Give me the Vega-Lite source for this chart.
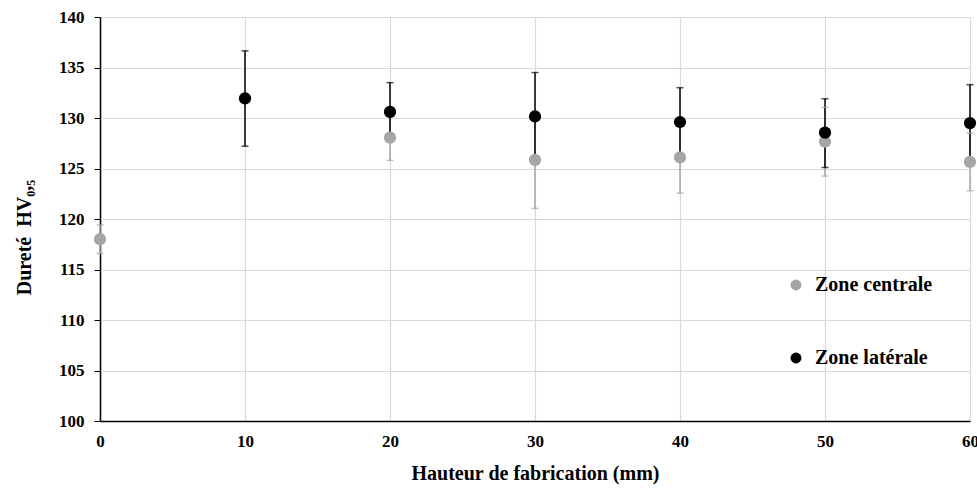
{
  "$schema": "https://vega.github.io/schema/vega-lite/v6.json",
  "width": 870,
  "height": 404,
  "autosize": "none",
  "padding": {"left": 100, "top": 17, "right": 7, "bottom": 68},
  "background": "white",
  "config": {
    "font": "Liberation Serif",
    "view": {"stroke": null},
    "axis": {
      "labelFont": "Liberation Serif",
      "labelFontWeight": "bold",
      "labelFontSize": 17,
      "labelColor": "#000000",
      "titleFont": "Liberation Serif",
      "titleFontWeight": "bold",
      "titleFontSize": 19,
      "titleColor": "#000000",
      "domainColor": "#000000",
      "domainWidth": 1.5,
      "tickColor": "#000000",
      "gridColor": "#D9D9D9",
      "gridWidth": 1.2
    }
  },
  "data": {
    "values": [
      {"zone": "Zone centrale", "x": 0, "y": 118.0, "lo": 116.6, "hi": 119.4},
      {"zone": "Zone centrale", "x": 20, "y": 128.05, "lo": 125.8, "hi": 130.3},
      {"zone": "Zone centrale", "x": 30, "y": 125.85, "lo": 121.05, "hi": 130.65},
      {"zone": "Zone centrale", "x": 40, "y": 126.1, "lo": 122.55, "hi": 129.65},
      {"zone": "Zone centrale", "x": 50, "y": 127.65, "lo": 124.25, "hi": 131.05},
      {"zone": "Zone centrale", "x": 60, "y": 125.65, "lo": 122.8, "hi": 128.5},
      {"zone": "Zone latérale", "x": 10, "y": 131.95, "lo": 127.2, "hi": 136.65},
      {"zone": "Zone latérale", "x": 20, "y": 130.6, "lo": 127.7, "hi": 133.5},
      {"zone": "Zone latérale", "x": 30, "y": 130.15, "lo": 125.8, "hi": 134.5},
      {"zone": "Zone latérale", "x": 40, "y": 129.6, "lo": 126.2, "hi": 133.0},
      {"zone": "Zone latérale", "x": 50, "y": 128.55, "lo": 125.1, "hi": 131.9},
      {"zone": "Zone latérale", "x": 60, "y": 129.5, "lo": 125.7, "hi": 133.3}
    ]
  },
  "encoding": {
    "x": {
      "field": "x", "type": "quantitative",
      "scale": {"domain": [0, 60], "nice": false, "zero": false},
      "axis": {"values": [0, 10, 20, 30, 40, 50, 60], "title": "Hauteur de fabrication (mm)", "titleFontSize": 20, "tickSize": 0, "labelPadding": 12, "titlePadding": 14, "labelFlush": false}
    }
  },
  "resolve": {"legend": {"color": "independent"}},
  "layer": [
    {
      "mark": {"type": "rule", "strokeWidth": 1.5},
      "encoding": {
        "y": {"field": "lo", "type": "quantitative",
          "scale": {"domain": [100, 140], "nice": false, "zero": false},
          "axis": {"values": [100, 105, 110, 115, 120, 125, 130, 135, 140], "title": "Dureté\u00a0\u00a0HV₀,₅", "titleFontSize": 20, "titleY": 220, "titleAlign": "center", "tickSize": 6, "labelPadding": 10, "titlePadding": 24}},
        "y2": {"field": "hi"},
        "color": {"field": "zone", "type": "nominal", "scale": {"domain": ["Zone centrale", "Zone latérale"], "range": ["#A6A6A6", "#000000"]}, "legend": null}
      }
    },
    {
      "mark": {"type": "tick", "orient": "horizontal", "size": 7, "thickness": 1.5},
      "encoding": {
        "y": {"field": "lo", "type": "quantitative"},
        "color": {"field": "zone", "type": "nominal", "legend": null}
      }
    },
    {
      "mark": {"type": "tick", "orient": "horizontal", "size": 7, "thickness": 1.5},
      "encoding": {
        "y": {"field": "hi", "type": "quantitative"},
        "color": {"field": "zone", "type": "nominal", "legend": null}
      }
    },
    {
      "mark": {"type": "point", "filled": true, "opacity": 1, "size": 150},
      "encoding": {
        "y": {"field": "y", "type": "quantitative"},
        "color": {
          "field": "zone", "type": "nominal",
          "legend": {
            "title": null,
            "orient": "none",
            "legendX": 686,
            "legendY": 258,
            "symbolType": "circle",
            "symbolSize": 120,
            "symbolStrokeWidth": 0,
            "labelFont": "Liberation Serif",
            "labelFontWeight": "bold",
            "labelFontSize": 20,
            "labelColor": "#000000",
            "labelOffset": 9,
            "rowPadding": 53,
            "labelLimit": 300
          }
        }
      }
    }
  ]
}
